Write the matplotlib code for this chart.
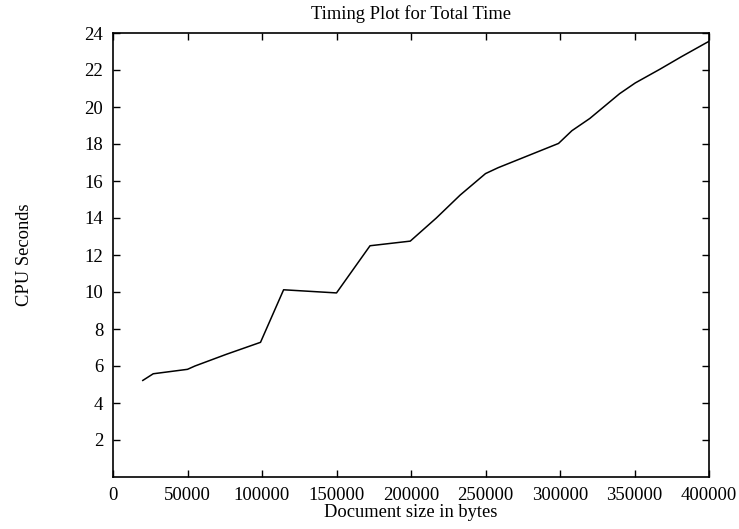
import matplotlib
matplotlib.use("Agg")
import matplotlib.pyplot as plt

doc_size = [20000, 27000, 50000, 55000, 76000, 99000, 114500, 150000, 172500,
            199500, 217000, 233000, 250000, 258500, 299000, 308000, 320000,
            330000, 340000, 350500, 367000, 381500, 397500, 400000]
cpu_seconds = [5.22, 5.58, 5.82, 6.0, 6.63, 7.28, 10.12, 9.95, 12.5,
               12.75, 14.0, 15.24, 16.4, 16.72, 18.03, 18.72, 19.38,
               20.05, 20.72, 21.3, 22.04, 22.72, 23.44, 23.55]

x_ticks = [0, 50000, 100000, 150000, 200000, 250000, 300000, 350000, 400000]
y_ticks = [2, 4, 6, 8, 10, 12, 14, 16, 18, 20, 22, 24]

plt.rcParams['font.family'] = ['Liberation Serif', 'DejaVu Serif']

fig = plt.figure(figsize=(7.39, 5.29), dpi=100)
ax = fig.add_axes([113/739, 1-477/529, (709-113)/739, (477-33)/529])
ax.plot(doc_size, cpu_seconds, color='black', linewidth=1.1)
ax.set_xlim(0, 400000)
ax.set_ylim(0, 24)
ax.set_xticks(x_ticks)
ax.set_xticklabels([str(v) for v in x_ticks])
ax.set_yticks(y_ticks)
ax.set_yticklabels([str(v) for v in y_ticks])
ax.tick_params(direction='in', length=5, width=1.0, top=True, right=True,
               labelsize=13.5, pad=7)
for s in ax.spines.values():
    s.set_linewidth(1.2)
ax.set_title('Timing Plot for Total Time', fontsize=13.3, pad=10)
ax.set_xlabel('Document size in bytes', fontsize=13.3, labelpad=0)
ax.set_ylabel('CPU Seconds', fontsize=13.3, labelpad=37)
fig.savefig('out.png', dpi=100)
